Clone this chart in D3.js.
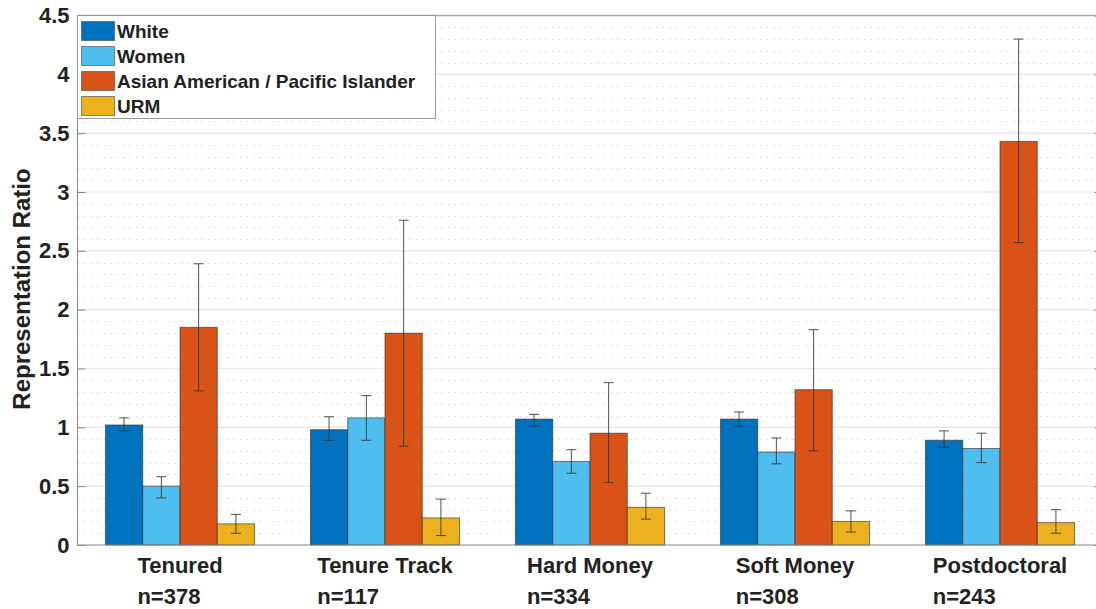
<!DOCTYPE html>
<html>
<head>
<meta charset="utf-8">
<script src="https://cdn.jsdelivr.net/npm/d3@7"></script>
<style>
  body { margin: 0; background: #fff; }
  text { font-family: "Liberation Sans", Arial, Helvetica, sans-serif; font-weight: bold; fill: #222; }
</style>
</head>
<body>
<div id="chart"></div>
<script>
// categories and sample sizes
const categories = ["Tenured", "Tenure Track", "Hard Money", "Soft Money", "Postdoctoral"];
const sampleSizes = ["n=378", "n=117", "n=334", "n=308", "n=243"];
const groups = ["White", "Women", "Asian American / Pacific Islander", "URM"];
const groupColors = ["#0072BD", "#4DBEEE", "#D95319", "#EDB120"];

// representation ratios (bar heights) with error bar lows / highs
const white = [1.02, 0.98, 1.07, 1.07, 0.89];
const whiteLow = [0.97, 0.89, 1.01, 1.01, 0.83];
const whiteHigh = [1.08, 1.09, 1.11, 1.13, 0.97];

const women = [0.50, 1.08, 0.71, 0.79, 0.82];
const womenLow = [0.40, 0.89, 0.61, 0.69, 0.70];
const womenHigh = [0.58, 1.27, 0.81, 0.91, 0.95];

const asian = [1.85, 1.80, 0.95, 1.32, 3.43];
const asianLow = [1.31, 0.84, 0.53, 0.80, 2.57];
const asianHigh = [2.39, 2.76, 1.38, 1.83, 4.30];

const urm = [0.18, 0.23, 0.32, 0.20, 0.19];
const urmLow = [0.10, 0.08, 0.22, 0.11, 0.10];
const urmHigh = [0.26, 0.39, 0.44, 0.29, 0.30];

const yTicks = [0, 0.5, 1, 1.5, 2, 2.5, 3, 3.5, 4, 4.5];
const yTickLabels = ["0", "0.5", "1", "1.5", "2", "2.5", "3", "3.5", "4", "4.5"];

function init() {
    const width = 1096;
    const height = 609;
    const plot = { left: 77.5, right: 1102.5, top: 15.5, bottom: 545 };

    const series = [
        { values: white, low: whiteLow, high: whiteHigh },
        { values: women, low: womenLow, high: womenHigh },
        { values: asian, low: asianLow, high: asianHigh },
        { values: urm, low: urmLow, high: urmHigh }
    ];

    const rows = [];
    categories.forEach((c, i) => {
        groups.forEach((g, j) => {
            rows.push({ cat: c, group: g, gi: j, v: series[j].values[i], lo: series[j].low[i], hi: series[j].high[i] });
        });
    });

    // scales
    const x0 = d3.scaleBand().domain(categories).range([plot.left, plot.right]);
    const groupWidth = x0.bandwidth() * 4 / 5.5;
    const x1 = d3.scaleBand().domain(groups).range([0, groupWidth]);
    const groupOffset = (x0.bandwidth() - groupWidth) / 2;
    const yScale = d3.scaleLinear().domain([0, 4.5]).range([plot.bottom, plot.top]);
    const colorScale = d3.scaleOrdinal().domain(groups).range(groupColors);

    const svg = d3.select("#chart")
        .append("svg")
        .attr("width", width)
        .attr("height", height);

    svg.append("rect").attr("width", width).attr("height", height).attr("fill", "#fff");

    // minor grid (dotted)
    const minor = d3.range(0.1, 4.5, 0.1).filter(v => Math.abs(v * 2 - Math.round(v * 2)) > 0.01);
    svg.append("g")
        .selectAll("line")
        .data(minor)
        .enter()
        .append("line")
        .attr("x1", plot.left)
        .attr("x2", plot.right)
        .attr("y1", d => Math.round(yScale(d)) + 0.5)
        .attr("y2", d => Math.round(yScale(d)) + 0.5)
        .attr("stroke", "#d8d8d8")
        .attr("stroke-width", 1)
        .attr("stroke-dasharray", "1.5,5");

    // major grid
    svg.append("g")
        .selectAll("line")
        .data(yTicks.slice(1, -1))
        .enter()
        .append("line")
        .attr("x1", plot.left)
        .attr("x2", plot.right)
        .attr("y1", d => yScale(d))
        .attr("y2", d => yScale(d))
        .attr("stroke", "#e9e9e9")
        .attr("stroke-width", 1.5);

    // bars
    svg.append("g")
        .selectAll("rect")
        .data(rows)
        .enter()
        .append("rect")
        .attr("x", d => x0(d.cat) + groupOffset + x1(d.group))
        .attr("y", d => yScale(d.v))
        .attr("width", x1.bandwidth())
        .attr("height", d => yScale(0) - yScale(d.v))
        .attr("fill", d => colorScale(d.group))
        .attr("stroke", "#2a2a2a")
        .attr("stroke-opacity", 0.6)
        .attr("stroke-width", 1);

    // error bars
    const err = svg.append("g")
        .attr("stroke", "#333")
        .attr("stroke-opacity", 0.85)
        .attr("stroke-width", 1);
    rows.forEach(d => {
        const cx = x0(d.cat) + groupOffset + x1(d.group) + x1.bandwidth() / 2;
        err.append("line").attr("x1", cx).attr("x2", cx).attr("y1", yScale(d.hi)).attr("y2", yScale(d.lo));
        err.append("line").attr("x1", cx - 5).attr("x2", cx + 5).attr("y1", yScale(d.hi)).attr("y2", yScale(d.hi));
        err.append("line").attr("x1", cx - 5).attr("x2", cx + 5).attr("y1", yScale(d.lo)).attr("y2", yScale(d.lo));
    });

    // axes
    const yAxis = svg.append("g")
        .attr("transform", `translate(${plot.left},0)`)
        .call(d3.axisLeft(yScale).tickValues(yTicks).tickFormat((d, i) => yTickLabels[i]).tickSize(-8).tickPadding(8));
    yAxis.selectAll("text").style("font-size", "22px").attr("fill", "#222");
    yAxis.selectAll("line").attr("stroke", "#888");
    yAxis.select(".domain").attr("stroke", "#888").attr("d", `M0,${plot.top}V${plot.bottom}`);

    const yRight = svg.append("g")
        .attr("transform", `translate(${plot.right},0)`)
        .call(d3.axisRight(yScale).tickValues(yTicks).tickFormat("").tickSize(-8));
    yRight.selectAll("line").attr("stroke", "#888");
    yRight.select(".domain").attr("stroke", "#888");

    svg.append("line")
        .attr("x1", plot.left).attr("x2", plot.right)
        .attr("y1", plot.bottom).attr("y2", plot.bottom)
        .attr("stroke", "#888").attr("stroke-width", 1.2);
    svg.append("line")
        .attr("x1", plot.left).attr("x2", plot.right)
        .attr("y1", plot.top).attr("y2", plot.top)
        .attr("stroke", "#aaa").attr("stroke-width", 1.5);

    // category labels (two lines, left aligned inside a centred block)
    categories.forEach((c, i) => {
        const cx = x0(c) + x0.bandwidth() / 2;
        const g = svg.append("g");
        const t1 = g.append("text").attr("y", 573).style("font-size", "22px").text(c);
        const t2 = g.append("text").attr("y", 604).style("font-size", "22px").text(sampleSizes[i]);
        const w = Math.max(t1.node().getComputedTextLength(), t2.node().getComputedTextLength());
        t1.attr("x", cx - w / 2);
        t2.attr("x", cx - w / 2);
    });

    // y label
    svg.append("text")
        .attr("text-anchor", "middle")
        .attr("transform", "rotate(-90)")
        .attr("x", -289)
        .attr("y", 30)
        .style("font-size", "24px")
        .text("Representation Ratio");

    // legend
    const legend = svg.append("g").attr("class", "legend");
    legend.append("rect")
        .attr("x", plot.left)
        .attr("y", plot.top)
        .attr("width", 358)
        .attr("height", 103)
        .attr("fill", "#fff")
        .attr("stroke", "#999")
        .attr("stroke-width", 1);

    groups.forEach((g, i) => {
        const cy = 31 + i * 25;
        legend.append("rect")
            .attr("x", 81.5)
            .attr("y", cy - 9.5)
            .attr("width", 33)
            .attr("height", 19)
            .attr("fill", colorScale(g))
            .attr("stroke", "#444")
            .attr("stroke-opacity", 0.6);
        legend.append("text")
            .attr("x", 117)
            .attr("y", cy + 7)
            .style("font-size", "19px")
            .attr("fill", "#000")
            .text(g);
    });
}

window.onload = init;
</script>
</body>
</html>
